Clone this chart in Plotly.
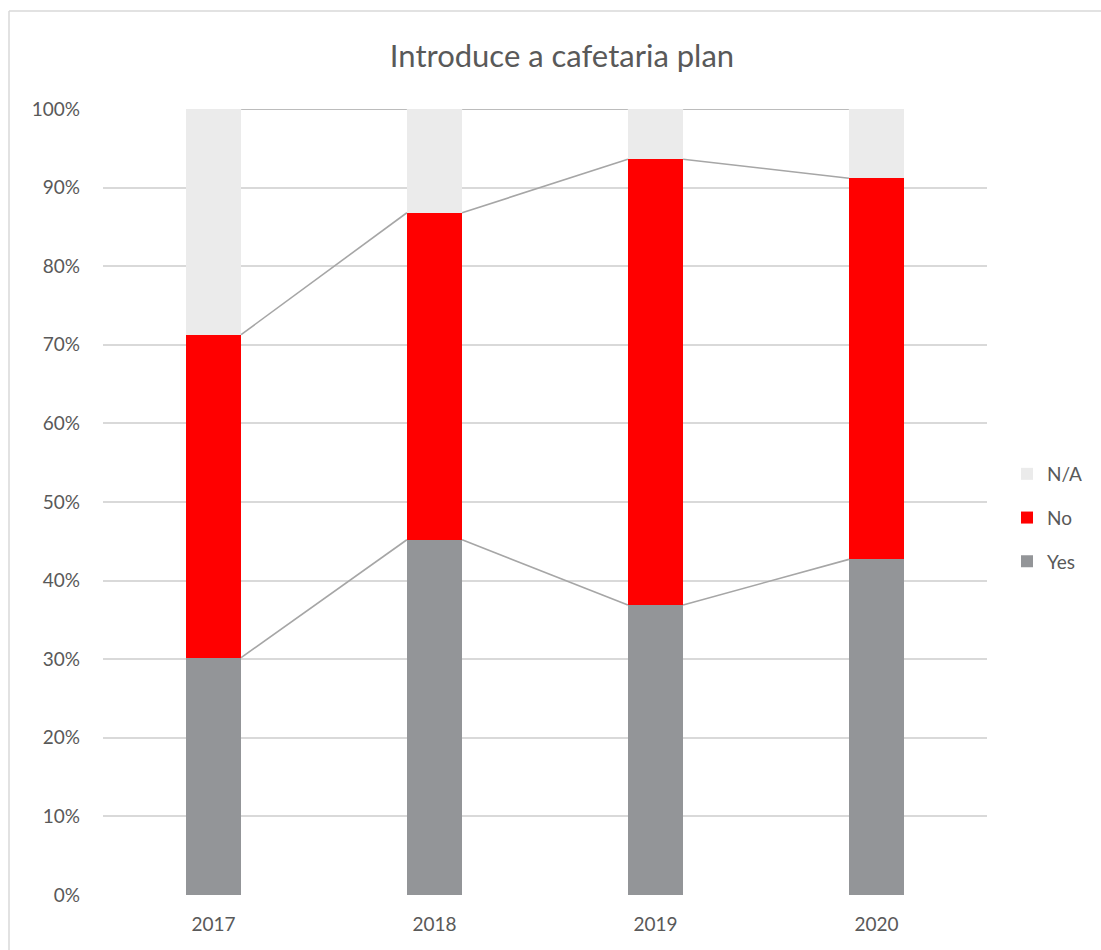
import plotly.graph_objects as go

# Survey answers per year, in percent of respondents
years = ["2017", "2018", "2019", "2020"]
yes = [30.2, 45.2, 36.9, 42.7]
no = [41.1, 41.6, 56.7, 48.5]
na = [28.7, 13.2, 6.4, 8.8]

series_names = ["Yes", "No", "N/A"]
series_values = [yes, no, na]
series_colors = ["#939598", "#ff0000", "#ebebeb"]
legend_ranks = [3, 2, 1]

W, H = 1101, 950
L, R, T, B = 103, 114, 109, 55
BAR_W = 0.25
FONT = "Lato, 'Open Sans', sans-serif"
TEXT_COLOR = "#595959"

xpos = list(range(len(years)))

fig = go.Figure()

for name, vals, col, rank in zip(series_names, series_values, series_colors, legend_ranks):
    fig.add_trace(go.Bar(
        x=xpos, y=vals, name=name, width=BAR_W,
        marker=dict(color=col, line=dict(width=0)),
        legendgroup=name, legendrank=rank,
    ))

# Series lines joining the top of each stacked segment between neighbouring bars
lx, ly = [], []
cum = [0.0] * len(years)
for vals in series_values:
    cum = [c + v for c, v in zip(cum, vals)]
    for i in range(len(years) - 1):
        lx += [xpos[i] + BAR_W / 2, xpos[i + 1] - BAR_W / 2, None]
        ly += [cum[i], cum[i + 1], None]
fig.add_trace(go.Scatter(
    x=lx, y=ly, mode="lines", showlegend=False, hoverinfo="skip",
    line=dict(color="#a6a6a6", width=1.6),
))

pw = W - L - R
ph = H - T - B

def px_x(p):
    return (p - L) / pw

def px_y(p):
    return (H - B - p) / ph

# Chart frame (left and top edges)
fig.add_shape(type="line", xref="paper", yref="paper",
              x0=px_x(9), x1=px_x(9), y0=px_y(11), y1=px_y(960),
              line=dict(color="#d9d9d9", width=1.5))
fig.add_shape(type="line", xref="paper", yref="paper",
              x0=px_x(9), x1=px_x(1110), y0=px_y(11), y1=px_y(11),
              line=dict(color="#d9d9d9", width=1.5))

fig.update_layout(
    width=W, height=H,
    margin=dict(l=L, r=R, t=T, b=B),
    paper_bgcolor="white", plot_bgcolor="white",
    barmode="stack",
    font=dict(family=FONT, color=TEXT_COLOR, size=19),
    title=dict(text="Introduce a cafetaria plan", x=562 / W, xref="container",
               xanchor="center", y=1 - 56 / H, yanchor="middle",
               font=dict(size=31, color=TEXT_COLOR, family=FONT)),
    legend=dict(x=px_x(1007), xanchor="left", xref="paper",
                y=px_y(518), yanchor="middle",
                traceorder="grouped", tracegroupgap=16,
                font=dict(size=19, color=TEXT_COLOR), itemwidth=30,
                bgcolor="rgba(0,0,0,0)"),
    showlegend=True,
)

fig.update_xaxes(
    range=[-0.5, len(years) - 0.5], tickvals=xpos, ticktext=years,
    showgrid=False, zeroline=False, showline=False, ticks="",
    tickfont=dict(size=19, color=TEXT_COLOR), ticklabelstandoff=16,
)
fig.update_yaxes(
    range=[0, 100], dtick=10, ticksuffix="%",
    showgrid=True, gridcolor="#d9d9d9", gridwidth=1.5,
    zeroline=False, showline=False, ticks="",
    tickfont=dict(size=19, color=TEXT_COLOR), ticklabelstandoff=22,
)

fig.write_html("out.html")
